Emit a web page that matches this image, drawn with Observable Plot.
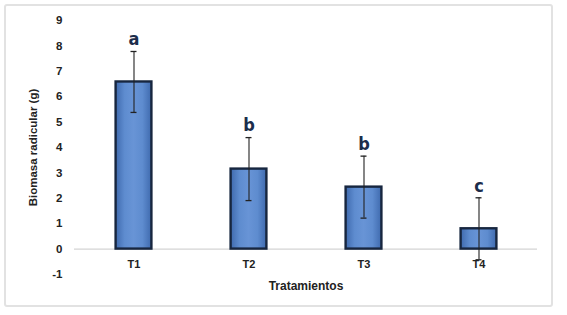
<!DOCTYPE html>
<html>
<head>
<meta charset="utf-8">
<script src="https://cdn.jsdelivr.net/npm/d3@7"></script>
<script src="https://cdn.jsdelivr.net/npm/@observablehq/plot@0.6"></script>
<style>
  html, body { margin: 0; padding: 0; background: #fff; }
  #wrap { position: relative; width: 567px; height: 315px; }
  #frame { position: absolute; left: 4px; top: 4px; width: 549px; height: 303px;
           border: 2px solid #e2e2e2; border-radius: 3px; box-sizing: border-box; }
  #chart { position: absolute; left: 0; top: 0; }
  .letters text { font-stretch: condensed; }
</style>
</head>
<body>
<div id="wrap"><div id="frame"></div><div id="chart"></div></div>
<script>
const categories = ["T1", "T2", "T3", "T4"];
const means = [6.58, 3.15, 2.44, 0.80];
const errors = [1.20, 1.24, 1.22, 1.22];
const letters = ["a", "b", "b", "c"];
const yTicks = [-1, 0, 1, 2, 3, 4, 5, 6, 7, 8, 9];

const data = categories.map((c, i) => ({
  cat: c, mean: means[i], err: errors[i], letter: letters[i],
  lo: means[i] - errors[i], hi: means[i] + errors[i]
}));

const font = "'Liberation Sans', Arial, sans-serif";

const chart = Plot.plot({
  width: 567,
  height: 315,
  marginLeft: 74,
  marginRight: 30,
  marginTop: 20,
  marginBottom: 41,
  style: { fontFamily: font, background: "transparent" },
  x: { domain: categories, padding: 0, axis: null },
  y: { domain: [-1, 9], axis: null },
  marks: [
    Plot.ruleY([0], { stroke: "#d4d4d4", strokeWidth: 1.2 }),
    Plot.barY(data, {
      x: "cat", y: "mean", fill: "url(#barGrad)", stroke: "#17263f", strokeWidth: 2.4,
      insetLeft: 39.6, insetRight: 39.6
    }),
    Plot.ruleX(data, { x: "cat", y1: "lo", y2: "hi", stroke: "#222", strokeWidth: 1.1 }),
    Plot.tickY(data, { x: "cat", y: "hi", stroke: "#222", strokeWidth: 1.3, insetLeft: 54.5, insetRight: 54.5 }),
    Plot.tickY(data, { x: "cat", y: "lo", stroke: "#222", strokeWidth: 1.3, insetLeft: 54.5, insetRight: 54.5 }),
    Plot.text(data, {
      x: "cat", y: "hi", text: "letter", dy: -12, fill: "#1b2d4b",
      fontSize: 18, fontWeight: "bold", fontFamily: "'DejaVu Sans', sans-serif",
      textAnchor: "middle", lineAnchor: "middle", className: "letters"
    }),
    Plot.text(yTicks, {
      x: () => categories[0], y: d => d, text: d => String(d), dx: -71.5, textAnchor: "end",
      fontSize: 11.5, fontWeight: "bold", fill: "#222", lineAnchor: "middle"
    }),
    Plot.text(categories, {
      x: d => d, y: () => 0, text: d => d, dy: 15, fontSize: 11, fontWeight: "bold",
      fill: "#222", lineAnchor: "middle"
    }),
    Plot.text(["Tratamientos"], {
      frameAnchor: "bottom", dy: 12, text: d => d, fontSize: 12, fontWeight: "bold", fill: "#222",
      lineAnchor: "middle"
    }),
    Plot.text(["Biomasa radicular (g)"], {
      frameAnchor: "left", dx: -41, rotate: -90, text: d => d, fontSize: 11.5, fontWeight: "bold",
      fill: "#222", lineAnchor: "middle", textAnchor: "middle"
    })
  ]
});

// gradient definition for bar fill
const ns = "http://www.w3.org/2000/svg";
const defs = document.createElementNS(ns, "defs");
const grad = document.createElementNS(ns, "linearGradient");
grad.setAttribute("id", "barGrad");
grad.setAttribute("x1", "0"); grad.setAttribute("x2", "1");
grad.setAttribute("y1", "0"); grad.setAttribute("y2", "0");
[["0", "#3f6aae"], ["0.25", "#5e8ccf"], ["0.5", "#6894d6"], ["0.75", "#5e8ccf"], ["1", "#3f6aae"]].forEach(([o, c]) => {
  const s = document.createElementNS(ns, "stop");
  s.setAttribute("offset", o); s.setAttribute("stop-color", c);
  grad.appendChild(s);
});
defs.appendChild(grad);
chart.insertBefore(defs, chart.firstChild);

document.getElementById("chart").appendChild(chart);
</script>
</body>
</html>
